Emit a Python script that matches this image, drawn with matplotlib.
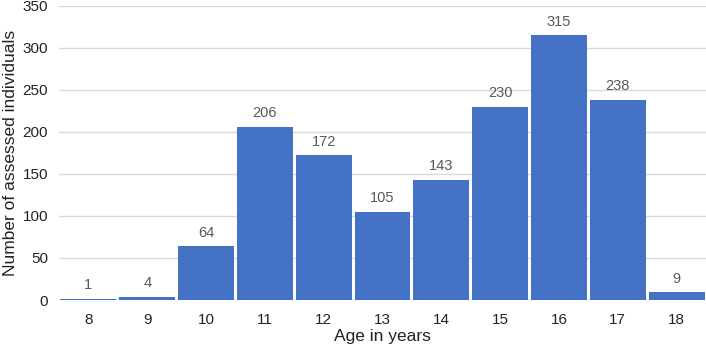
import matplotlib
matplotlib.use("Agg")
import matplotlib.pyplot as plt

ages = ["8", "9", "10", "11", "12", "13", "14", "15", "16", "17", "18"]
counts = [1, 4, 64, 206, 172, 105, 143, 230, 315, 238, 9]

plt.rcParams['font.family'] = ['Liberation Sans', 'DejaVu Sans']

fig = plt.figure(figsize=(7.06, 3.49), dpi=100)
ax = fig.add_axes([0.0836, 0.1404, 0.9164, 0.8426])
x = list(range(len(ages)))
bars = ax.bar(x, counts, width=0.95, color="#4472C4", zorder=3)
for xi, v in zip(x, counts):
    ax.text(xi, v + 8, str(v), ha="center", va="bottom", fontsize=10.5, color="#595959")

ax.set_xlim(-0.5, len(ages) - 0.5)
ax.set_ylim(0, 350)
ax.set_yticks(range(0, 351, 50))
ax.set_xticks(x)
ax.set_xticklabels(ages)
ax.tick_params(axis="both", length=0, labelsize=11, labelcolor="#222222")
ax.tick_params(axis="x", pad=9)
ax.tick_params(axis="y", pad=8)
ax.grid(axis="y", color="#d9d9d9", linewidth=1, zorder=0)
for s in ax.spines.values():
    s.set_visible(False)
ax.axhline(0, color="#c8c8c8", linewidth=1, zorder=2)
ax.set_xlabel("Age in years", fontsize=12.5, color="#222222", labelpad=2)
ax.set_ylabel("Number of assessed individuals", fontsize=12.5, color="#222222", labelpad=3)

fig.savefig("out.png", dpi=100)
